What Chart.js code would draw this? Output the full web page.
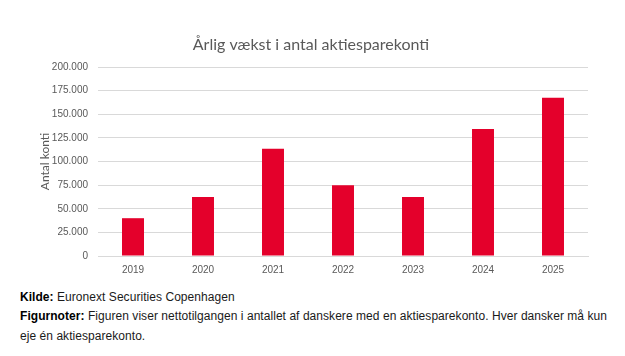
<!DOCTYPE html>
<html>
<head>
<meta charset="utf-8">
<script src="https://cdn.jsdelivr.net/npm/chart.js@4"></script>
<style>
  html, body { margin: 0; padding: 0; background: #fff; }
  body { width: 625px; height: 356px; position: relative; overflow: hidden; }
  #wrap { position: absolute; left: 0; top: 0; width: 625px; height: 285px; }
  .note { position: absolute; left: 20px; font-family: "Liberation Sans", Arial, sans-serif; font-size: 12px; letter-spacing: 0.05px; color: #1a1a1a; white-space: nowrap; }
  .note b { font-weight: bold; color: #000; }
</style>
</head>
<body>
<div id="wrap"><canvas id="c" width="625" height="285"></canvas></div>
<div class="note" style="top:290px;"><b>Kilde:</b> Euronext Securities Copenhagen</div>
<div class="note" style="top:309px;"><b>Figurnoter:</b> Figuren viser nettotilgangen i antallet af danskere med en aktiesparekonto. Hver dansker må kun</div>
<div class="note" style="top:329px;">eje én aktiesparekonto.</div>
<script>
const chartTitle = "Årlig vækst i antal aktiesparekonti";
const yAxisTitle = "Antal konti";
const years = ["2019", "2020", "2021", "2022", "2023", "2024", "2025"];
const growth = [40000, 62500, 113500, 75000, 62500, 134500, 167500];
const yTicks = [0, 25000, 50000, 75000, 100000, 125000, 150000, 175000, 200000];

const fmt = v => v.toString().replace(/\B(?=(\d{3})+(?!\d))/g, ".");

const titlePlugin = {
  id: 'customTitle',
  afterDraw(chart) {
    const ctx = chart.ctx;
    ctx.save();
    ctx.font = '16px "Lato", "Open Sans", sans-serif';
    ctx.fillStyle = '#595959';
    ctx.textAlign = 'center';
    ctx.textBaseline = 'middle';
    ctx.fillText(chartTitle, 311, 45);
    ctx.restore();
  }
};

new Chart(document.getElementById('c'), {
  type: 'bar',
  data: {
    labels: years,
    datasets: [{
      data: growth,
      backgroundColor: '#e4002b',
      borderWidth: 0,
      categoryPercentage: 1,
      barPercentage: 0.314
    }]
  },
  options: {
    responsive: false,
    animation: false,
    devicePixelRatio: 1,
    layout: { padding: { top: 67, right: 37, left: 0, bottom: 0 } },
    plugins: { legend: { display: false }, tooltip: { enabled: false }, title: { display: false } },
    scales: {
      x: {
        grid: { display: false, drawTicks: false },
        border: { color: '#d9d9d9', width: 1 },
        ticks: { color: '#595959', font: { family: '"Liberation Sans", Arial, sans-serif', size: 10 }, padding: 8 },
        afterFit(scale) { scale.height = 29; }
      },
      y: {
        min: 0, max: 200000,
        afterBuildTicks(scale) { scale.ticks = yTicks.map(v => ({ value: v })); },
        grid: { color: '#d9d9d9', drawTicks: false },
        border: { display: false },
        ticks: { color: '#595959', font: { family: '"Liberation Sans", Arial, sans-serif', size: 10 }, padding: 10, callback: v => fmt(v) },
        title: { display: true, text: yAxisTitle, color: '#595959', font: { family: '"Lato", "Open Sans", sans-serif', size: 12 }, padding: { top: 38, bottom: 0 } },
        afterFit(scale) { scale.width = 98; }
      }
    }
  },
  plugins: [titlePlugin]
});
</script>
</body>
</html>
